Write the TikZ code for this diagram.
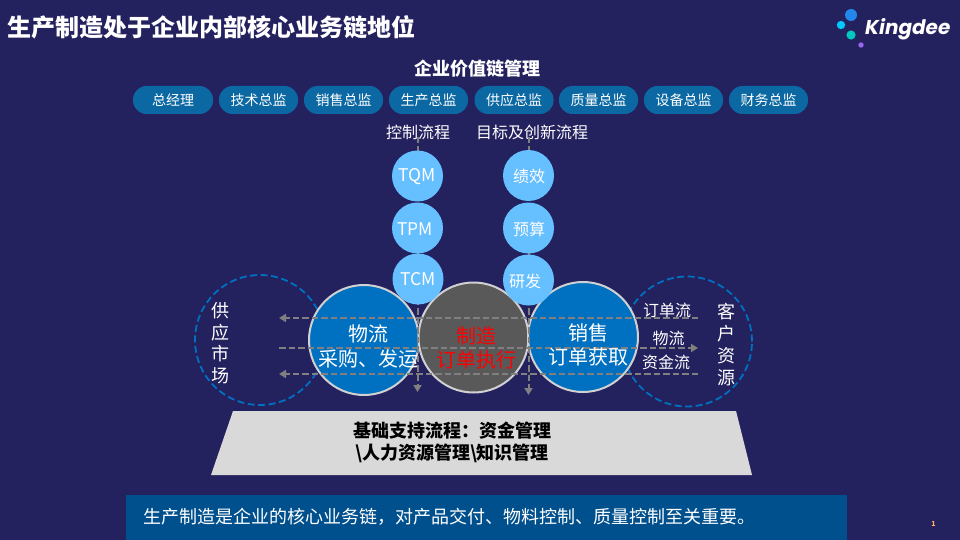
\documentclass[tikz,border=0pt]{standalone}
\usepackage{fontspec}
\usepackage{xcolor}
\setmainfont{Noto Sans CJK SC}
\newfontfamily\logofont{Poppins}
\usetikzlibrary{arrows.meta,positioning}
\definecolor{slidebg}{HTML}{24215F}
\definecolor{pillblue}{HTML}{0B68A3}
\definecolor{skyblue}{HTML}{66BFFF}
\definecolor{coreblue}{HTML}{0070C0}
\definecolor{coregray}{HTML}{595959}
\definecolor{barblue}{HTML}{00508E}
\definecolor{dotblue}{HTML}{2288EE}
\definecolor{dotcyan}{HTML}{00C8FF}
\definecolor{dotteal}{HTML}{00C8C0}
\definecolor{dotviolet}{HTML}{9966EE}
\tikzset{
  pill/.style={rounded corners=13.5pt,fill=pillblue,minimum height=28pt,minimum width=79pt,inner sep=0pt},
  pilltext/.style={text=white,inner sep=0pt,font=\fontsize{14}{16}\selectfont},
  small/.style={circle,fill=skyblue,minimum size=51pt,inner sep=0pt},
  smalltext/.style={text=white,inner sep=0pt,font=\fontsize{17.5}{20}\selectfont},
  core/.style={circle,draw=black!18,line width=2pt,minimum size=110pt,inner sep=0pt},
  market/.style={circle,draw=coreblue,line width=1.8pt,dash pattern=on 7pt off 3.5pt,minimum size=130pt,inner sep=0pt},
  flow/.style={draw=black!50,line width=2pt,dash pattern=on 6.5pt off 3pt,-{Triangle[length=7pt,width=8pt]}},
  label/.style={text=white,inner sep=0pt,align=center},
}
\begin{document}
\begin{tikzpicture}[x=1pt,y=-1pt]
\fill[slidebg] (0,0) rectangle (960,540);
\useasboundingbox (0,0) rectangle (960,540);

\node[label,anchor=west,font=\fontsize{24}{26}\bfseries\selectfont] (title) at (7.5,27) {生产制造处于企业内部核心业务链地位};
\node[label,font=\fontsize{18}{20}\bfseries\selectfont] (chain) at (477,69) {企业价值链管理};

% logo
\fill[dotblue] (851,15) circle (6);
\fill[dotcyan] (841,25) circle (4.2);
\fill[dotteal] (851,35) circle (4.6);
\fill[dotviolet] (861,45) circle (2.7);
\node[label,anchor=west,font=\logofont\fontsize{20}{22}\bfseries\itshape\selectfont] (logo) at (865,29) {Kingdee};

% roles
\node[pill,minimum width=80pt,pilltext] (r1) at (173,100)   {总经理};
\node[pill,pilltext] (r2) at (258.5,100) {技术总监};
\node[pill,pilltext] (r3) at (343.5,100) {销售总监};
\node[pill,pilltext] (r4) at (428.5,100) {生产总监};
\node[pill,pilltext] (r5) at (514,100)   {供应总监};
\node[pill,pilltext] (r6) at (598.5,100) {质量总监};
\node[pill,pilltext] (r7) at (683.5,100) {设备总监};
\node[pill,pilltext] (r8) at (768.5,100) {财务总监};

\node[label,font=\fontsize{16}{18}\selectfont] (ctrl) at (418,132) {控制流程};
\node[label,font=\fontsize{16}{18}\selectfont] (goal) at (532,132) {目标及创新流程};

% markets
\node[market] (supply) at (260,340) {};
\node[market] (client) at (687,341.5) {};
\node[label,font=\fontsize{18}{21.5}\selectfont] (supplyt) at (220,343) {供\\应\\市\\场};
\node[label,font=\fontsize{18}{22}\selectfont] (clientt) at (726,345) {客\\户\\资\\源};

% core chain
\node[core,fill=coreblue] (logi) at (364,340) {};
\node[core,fill=coregray] (make) at (473.5,337.5) {};
\node[core,fill=coreblue] (sale) at (583,337) {};

% flows
\coordinate (a1) at (698,318); \coordinate (a2) at (279,318);
\coordinate (b1) at (279,348); \coordinate (b2) at (698,348);
\coordinate (c1) at (698,374); \coordinate (c2) at (279,374);
\coordinate (d1) at (417.5,137); \coordinate (d2) at (417.5,392);
\coordinate (e1) at (528.5,137); \coordinate (e2) at (528.5,395);
\draw[flow] (a1) -- (a2);
\draw[flow] (b1) -- (b2);
\draw[flow] (c1) -- (c2);
\draw[flow] (d1) -- (d2);
\draw[flow] (e1) -- (e2);

\node[small] (tqm) at (417.5,176) {};
\node[small] (tpm) at (417.5,228) {};
\node[small] (tcm) at (418,279)   {};
\node[small] (perf) at (528.5,175.5) {};
\node[small] (budg) at (528.5,228)   {};
\node[small] (rnd) at (528.5,280)    {};
\node[smalltext] (tqmt) at (417.5,177) {TQM};
\node[smalltext] (tpmt) at (415,229)   {TPM};
\node[smalltext] (tcmt) at (418.5,279.5) {TCM};
\node[smalltext,font=\fontsize{16}{18}\selectfont] (perft) at (529,176) {绩效};
\node[smalltext,font=\fontsize{16}{18}\selectfont] (budgt) at (529,229) {预算};
\node[smalltext,font=\fontsize{16}{18}\selectfont] (rndt) at (525,281)  {研发};

\node[label,font=\fontsize{20}{24.5}\selectfont] (logit) at (368,346.5) {物流\\采购、发运};
\node[label,text=red,font=\fontsize{20}{24.5}\selectfont] (maket) at (476,348) {制造\\订单执行};
\node[label,font=\fontsize{20}{24.5}\selectfont] (salet) at (588,345) {销售\\订单获取};

\node[label,font=\fontsize{16}{18}\selectfont] (f1) at (667,310) {订单流};
\node[label,font=\fontsize{16}{18}\selectfont] (f2) at (668.5,338) {物流};
\node[label,font=\fontsize{16}{18}\selectfont] (f3) at (666,362) {资金流};

% base
\fill[black!15] (233,411) -- (736,411) -- (752,475) -- (211,475) -- cycle;
\node[text=black,inner sep=0pt,align=center,font=\fontsize{18}{22}\bfseries\selectfont] (base) at (452,442.5) {基础支持流程：资金管理\\\textbackslash 人力资源管理\textbackslash 知识管理};

% bottom bar
\fill[barblue] (126,495) rectangle (847,540);
\node[label,anchor=west,font=\fontsize{18}{20}\selectfont] (note) at (143.5,517) {生产制造是企业的核心业务链，对产品交付、物料控制、质量控制至关重要。};
\node[label,text=orange!60!white,font=\fontsize{7}{8}\bfseries\selectfont] (page) at (933.5,524) {1};
\end{tikzpicture}
\end{document}
